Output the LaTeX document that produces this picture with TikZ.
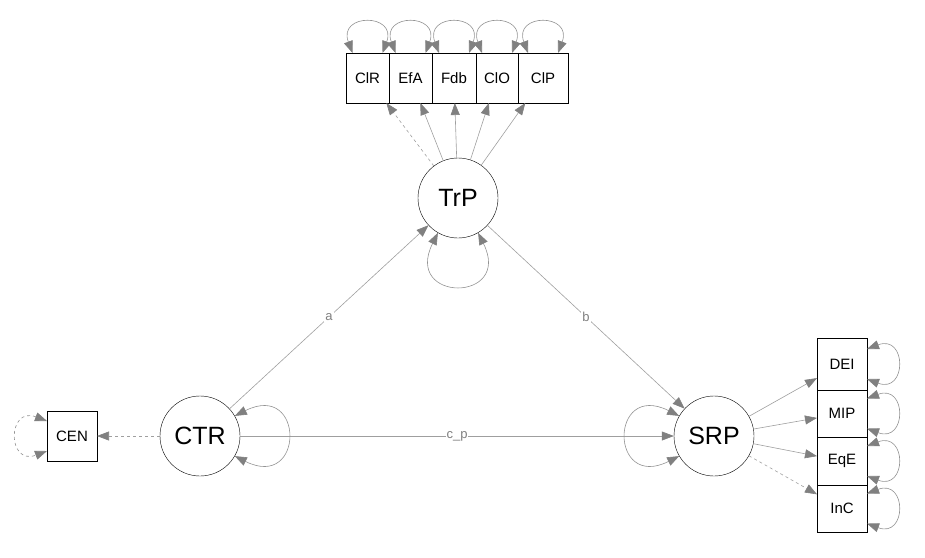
\documentclass[tikz,border=0pt]{standalone}
\usepackage{fontspec}
\setmainfont{Liberation Sans}
\usetikzlibrary{positioning,arrows.meta}
\begin{document}
\begin{tikzpicture}[x=1pt,y=1pt,
	>={Triangle[length=12pt,width=9pt,color=gray]},
	lat/.style={circle,draw,thin,minimum size=80pt,inner sep=0pt,font=\fontsize{25}{25}\selectfont},
	ind/.style={rectangle,draw,line width=0.8pt,minimum width=50pt,minimum height=50pt,inner sep=0pt,outer sep=0pt,font=\fontsize{15}{15}\selectfont},
	pth/.style={->,draw=gray!75,line width=0.6pt},
	res/.style={<->,draw=gray!85,line width=0.6pt},
	lab/.style={fill=white,text=gray,inner sep=1pt,font=\fontsize{13}{13}\selectfont}]%SEM
	\useasboundingbox (0,0) rectangle (925,-557);
	\node[lat] (TrP) at (458,-198) {TrP};
	\node[lat] (CTR) at (200,-436) {CTR};
	\node[lat] (SRP) at (714,-436) {SRP};
	\node[ind] (CEN) at (72,-436) {CEN};
	\node[ind,minimum width=43pt] (ClR) at (367.5,-78) {ClR};
	\node[ind,minimum width=43pt,right=0pt of ClR] (EfA) {EfA};
	\node[ind,minimum width=44pt,right=0pt of EfA] (Fdb) {Fdb};
	\node[ind,minimum width=42pt,right=0pt of Fdb] (ClO) {ClO};
	\node[ind,right=0pt of ClO] (ClP) {ClP};
	\node[ind,minimum height=52pt] (DEI) at (842,-364) {DEI};
	\node[ind,minimum height=47pt,below=0pt of DEI] (MIP) {MIP};
	\node[ind,minimum height=48pt,below=0pt of MIP] (EqE) {EqE};
	\node[ind,minimum height=47pt,below=0pt of EqE] (InC) {InC};
	% paths
	\draw[pth] (CTR) -- node[lab]{a} (TrP);
	\draw[pth] (TrP) -- node[lab]{b} (SRP);
	\draw[pth] (CTR) -- node[lab]{c\_p} (SRP);
	\draw[pth,dashed] (CTR) -- (CEN);
	\draw[pth,dashed] (TrP) -- (ClR);
	\foreach \b in {EfA,Fdb,ClO,ClP}
	\draw[pth] (TrP) -- (\b);
	\foreach \b in {DEI,MIP,EqE}
	\draw[pth] (SRP) -- (\b);
	\draw[pth,dashed] (SRP) -- (InC);
	% variances
	\foreach \b in {ClR,EfA,Fdb,ClO,ClP}
	\draw[res] ([xshift=-15pt]\b.north) .. controls +(-15,40) and +(15,40) .. ([xshift=15pt]\b.north);
	\foreach \b in {DEI,MIP,EqE,InC}
	\draw[res] ([yshift=15pt]\b.east) .. controls +(40,15) and +(40,-15) .. ([yshift=-15pt]\b.east);
	\draw[res,dashed] ([yshift=15pt]CEN.west) .. controls +(-40,15) and +(-40,-15) .. ([yshift=-15pt]CEN.west);
	\draw[res] (TrP.-120) .. controls +(-35,-70) and +(35,-70) .. (TrP.-60);
	\draw[res] (CTR.30) .. controls +(70,35) and +(70,-35) .. (CTR.-30);
	\draw[res] (SRP.150) .. controls +(-70,35) and +(-70,-35) .. (SRP.210);
\end{tikzpicture}
\end{document}
